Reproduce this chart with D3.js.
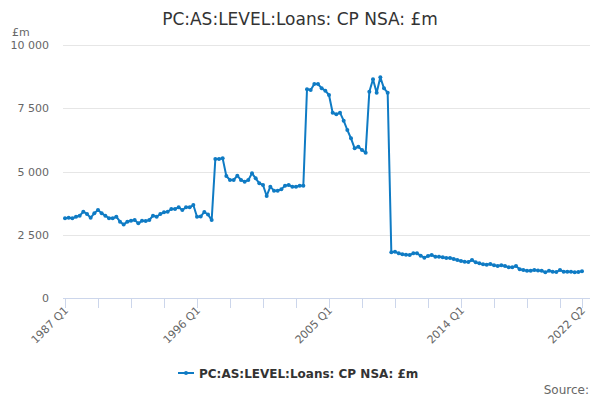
<!DOCTYPE html>
<html><head><meta charset="utf-8">
<script src="https://cdn.jsdelivr.net/npm/d3@7"></script>
<style>body{margin:0;background:#fff;}svg{display:block;font-family:"DejaVu Sans",sans-serif;}</style>
</head><body>
<svg id="c" width="600" height="400"></svg>
<script>
const title = "PC:AS:LEVEL:Loans: CP NSA: £m";
const seriesName = "PC:AS:LEVEL:Loans: CP NSA: £m";
const unitLabel = "£m";
const startYear = 1987;
const values1987_1995 = [3150,3175,3150,3213,3254,3411,3320,3175,3346,3478,3346,3254,3150,3150,3213,3016,2910,3016,3055,3083,2950,3055,3040,3083,3254,3213,3320,3386,3411,3517,3517,3583,3478,3583,3583,3676];
const values1996_1997 = [3210,3220,3400,3300,3080];
const values1997_2003 = [5494,5494,5520,4822,4664,4664,4835,4664,4598,4664,4927,4730,4532,4466,4032,4400,4242,4242,4295,4440,4466,4400,4400,4440,4440];
const values2003_2009 = [8249,8221,8458,8458,8287,8195,8024,7325,7260,7325,7008,6640,6311,5916,5982,5850,5744,8155,8643,8116,8722,8287,8116];
const values2009_2019 = [1806,1830,1767,1726,1713,1700,1767,1767,1673,1594,1660,1700,1634,1634,1607,1581,1581,1541,1502,1462,1436,1423,1502,1410,1370,1331,1318,1344,1291,1265,1291,1265,1212,1212,1265,1133,1107,1080,1080,1107];
const values2019_2022 = [1090,1080,1014,1080,1040,1027,1107,1040,1040,1040,1014,1030,1054];
const values = [].concat(values1987_1995, values1996_1997, values1997_2003, values2003_2009, values2009_2019, values2019_2022);
const categories = values.map((v,i)=> (startYear + Math.floor(i/4)) + " Q" + (i%4+1));
const yTicks = [0,2500,5000,7500,10000];
const xLabelIdx = [0,36,72,108,141];

const color = "#0f7bc4";
const svg = d3.select("#c");
const x = d3.scaleLinear().domain([0, values.length-1]).range([65, 582]);
const y = d3.scaleLinear().domain([0, 10000]).range([298, 45]);

svg.append("text").attr("x",300).attr("y",25).attr("text-anchor","middle")
  .attr("font-size",17).attr("fill","#333").text(title);
svg.append("text").attr("x",12).attr("y",36).attr("font-size",11).attr("fill","#666").text(unitLabel);

const fmt = v => d3.format(",")(v).replace(/,/g," ");
// grid
svg.append("g").selectAll("line").data(yTicks.filter(t=>t>0)).join("line")
  .attr("x1",63).attr("x2",590).attr("y1",d=>Math.round(y(d))+0.5).attr("y2",d=>Math.round(y(d))+0.5)
  .attr("stroke","#e6e6e6").attr("stroke-width",1);
svg.append("g").selectAll("text").data(yTicks).join("text")
  .attr("x",49).attr("y",d=>y(d)+4).attr("text-anchor","end").attr("font-size",11).attr("fill","#666")
  .text(fmt);

// x axis
const tickIdx = d3.range(0, values.length, 9).concat([values.length-1]);
const xa = svg.append("g");
xa.append("line").attr("x1",63).attr("x2",590).attr("y1",298.5).attr("y2",298.5).attr("stroke","#ccd6eb");
xa.selectAll("line.t").data(tickIdx).join("line").attr("class","t")
  .attr("x1",d=>Math.round(x(d))+0.5).attr("x2",d=>Math.round(x(d))+0.5).attr("y1",298).attr("y2",308)
  .attr("stroke","#ccd6eb");
xa.selectAll("text").data(xLabelIdx).join("text")
  .attr("transform",d=>`translate(${x(d)+4},${311}) rotate(-45)`)
  .attr("text-anchor","end").attr("font-size",11).attr("fill","#666")
  .text(d=>categories[d]);

// line
svg.append("path").datum(values)
  .attr("d", d3.line().x((d,i)=>x(i)).y(d=>y(d)))
  .attr("fill","none").attr("stroke",color).attr("stroke-width",2).attr("stroke-linejoin","round");
svg.append("g").selectAll("circle").data(values).join("circle")
  .attr("cx",(d,i)=>x(i)).attr("cy",d=>y(d)).attr("r",2).attr("fill",color);

// legend
const lg = svg.append("g");
lg.append("line").attr("x1",178).attr("x2",194).attr("y1",373).attr("y2",373).attr("stroke",color).attr("stroke-width",2);
lg.append("circle").attr("cx",186).attr("cy",373).attr("r",2).attr("fill",color);
lg.append("text").attr("x",199).attr("y",377.5).attr("font-size",12).attr("font-weight","bold").attr("fill","#333").text(seriesName);

svg.append("text").attr("x",589).attr("y",394).attr("text-anchor","end").attr("font-size",12).attr("fill","#666").text("Source:");
</script>
</body></html>
